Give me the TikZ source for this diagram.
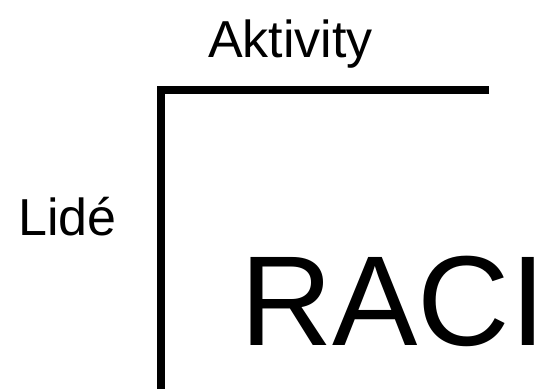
\documentclass[tikz,border=0pt]{standalone}
\usepackage{fontspec}
\setmainfont{Liberation Sans}
\usetikzlibrary{positioning}

\begin{document}
\begin{tikzpicture}[
			x=1pt, y=-1pt,
			popis/.style={anchor=base west, inner sep=0pt, font=\fontsize{52}{60}\selectfont},
			velky/.style={anchor=base west, inner sep=0pt, font=\fontsize{128}{140}\selectfont},
			osa/.style={line width=8pt, line join=miter}
		]
		\useasboundingbox (0,0) rectangle (548,389);

		\node[popis] (aktivity) at (208,57) {Aktivity};
		\node[popis] (lide) at (18,235) {Lidé};
		\node[velky] (raci) at (240,345) {RACI};

		\coordinate (roh) at (161,90);
		\coordinate (konecx) at (489,90);
		\coordinate (konecy) at (161,389);

		\draw[osa] (konecx) -- (roh) -- (konecy);
	\end{tikzpicture}
\end{document}
